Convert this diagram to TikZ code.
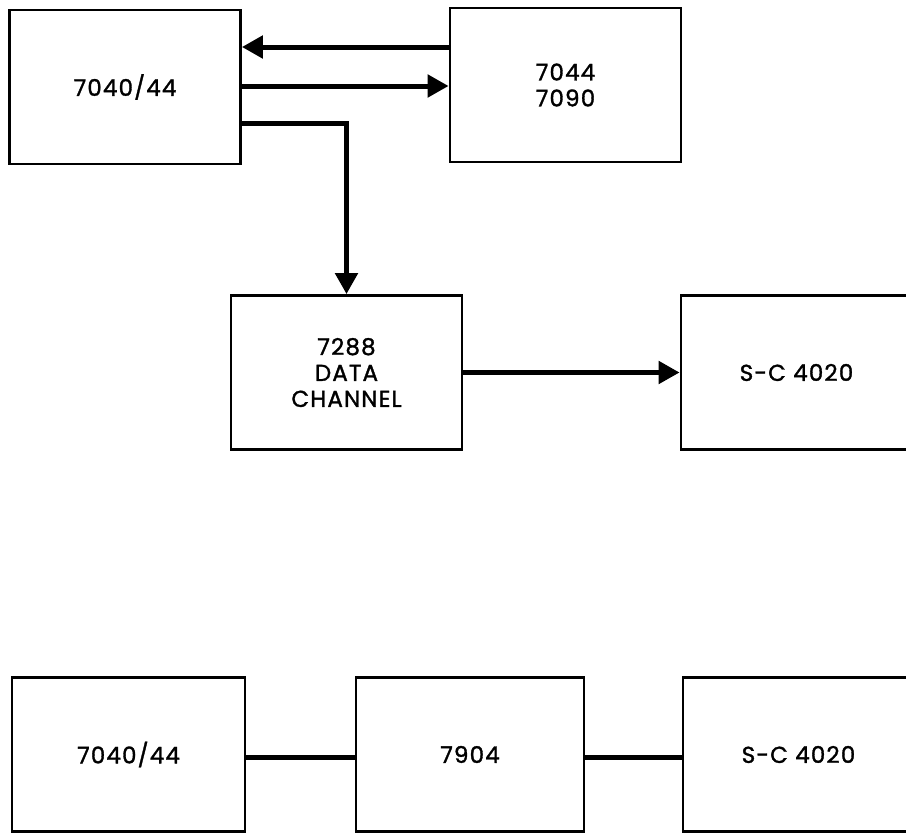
\documentclass[tikz,border=0pt]{standalone}
\usepackage{fontspec}
\setmainfont[LetterSpace=5,FakeBold=1.4]{Poppins}
\usetikzlibrary{arrows.meta}
\begin{document}
\begin{tikzpicture}[x=1pt,y=-1pt,
    unit/.style={draw,line width=2.8pt,
        minimum width=231pt,
        minimum height=154pt,
        align=center,
        font=\fontsize{23}{26}\selectfont},
    wire/.style={line width=5pt},
    flow/.style={wire,
        -{Triangle[length=21pt,width=22pt]}}]
  \useasboundingbox (0,0) rectangle (906,833);
  \clip (0,0) rectangle (906,833);
  % upper chain
  \node[unit] (cpu)
         at (125,87) {7040/44};
  \node[unit] (host)
         at (565.5,85) {7044\\7090};
  \node[unit] (chan)
         at (346.5,372.5)
    {7288\\DATA\\CHANNEL};
  \node[unit] (sc)
         at (796.5,372.5) {S-C 4020};
  \coordinate (k) at (346.5,123);
  \draw[flow] (host.west |- 0,47)
    -- (cpu.east |- 0,47);
  \draw[flow] (cpu.east |- 0,86)
    -- (host.west |- 0,86);
  \draw[flow] (cpu.east |- k)
    -- (k) -- (chan.north);
  \draw[flow] (chan.east)
    -- (sc.west);
  % lower chain
  \node[unit,minimum width=233pt] (cpu2)
         at (128.5,754.5) {7040/44};
  \node[unit,minimum width=228pt] (tcu)
         at (470,754.5) {7904};
  \node[unit] (sc2)
         at (798.5,754.5) {S-C 4020};
  \draw[wire] (cpu2.east |- 0,757)
    -- (tcu.west |- 0,757);
  \draw[wire] (tcu.east |- 0,757)
    -- (sc2.west |- 0,757);
\end{tikzpicture}
\end{document}
